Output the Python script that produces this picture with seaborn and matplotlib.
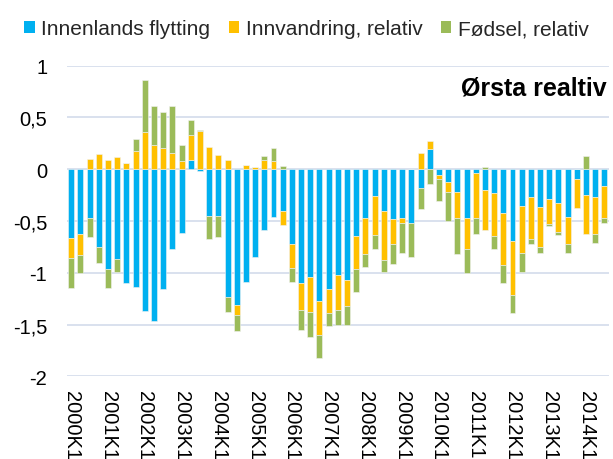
import numpy as np
import pandas as pd
import matplotlib
matplotlib.use("Agg")
import matplotlib.pyplot as plt
from matplotlib.patches import Patch
import seaborn as sns

# ---- data ----
quarters = [f"{y}K{q}" for y in range(2000, 2015) for q in range(1, 5)][:59]

innenlands = [-0.667, -0.622, -0.473, -0.754, -0.966, -0.866, -1.095, -1.134, -1.369, -1.465,
              -1.153, -0.773, -0.612, 0.090, -0.016, -0.451, -0.451, -1.230, -1.311, -1.085,
              -0.844, -0.586, -0.464, -0.406, -0.725, -1.101, -1.043, -1.275, -1.153, -1.024,
              -1.072, -0.644, -0.467, -0.261, -0.399, -0.483, -0.467, -0.522, -0.184, 0.200,
              -0.055, -0.119, -0.216, -0.473, -0.032, -0.203, -0.225, -0.425, -0.696, -0.357,
              -0.271, -0.367, -0.290, -0.328, -0.461, -0.097, -0.245, -0.271, -0.164]
innvandring = [-0.187, -0.206, 0.100, 0.145, 0.087, 0.122, 0.064, 0.177, 0.357, 0.232,
               0.203, 0.158, 0.081, 0.238, 0.370, 0.216, 0.142, 0.087, -0.097, 0.039,
               0.026, 0.087, 0.084, -0.132, -0.232, -0.258, -0.332, -0.322, -0.232, -0.335,
               -0.248, -0.322, -0.348, -0.377, -0.480, -0.242, -0.055, 0.000, 0.155, 0.071,
               -0.042, -0.100, -0.251, -0.300, -0.441, -0.383, -0.419, -0.499, -0.519, -0.454,
               -0.399, -0.380, -0.242, -0.274, -0.264, -0.280, -0.377, -0.351, -0.309]
fodsel = [-0.296, -0.177, -0.184, -0.155, -0.184, -0.122, 0.000, 0.119, 0.502, 0.383,
          0.345, 0.454, 0.151, 0.151, 0.010, -0.219, -0.203, -0.148, -0.155, 0.000,
          0.000, 0.045, 0.122, 0.029, -0.129, -0.196, -0.245, -0.222, -0.129, -0.145,
          -0.184, -0.216, -0.129, -0.129, -0.110, -0.187, -0.290, -0.322, -0.196, -0.138,
          -0.209, -0.280, -0.351, -0.232, -0.148, 0.019, -0.122, -0.177, -0.171, -0.184,
          -0.055, -0.064, -0.016, -0.032, -0.081, 0.000, 0.129, -0.093, -0.048]

series_names = ["Innenlands flytting", "Innvandring, relativ", "Fødsel, relativ"]
series_vals = [innenlands, innvandring, fodsel]
colors = ["#00B0F0", "#FFC000", "#9BBB59"]
y_ticks = [1, 0.5, 0, -0.5, -1, -1.5, -2]
y_ticklabels = ["1", "0,5", "0", "-0,5", "-1", "-1,5", "-2"]
title_text = "Ørsta realtiv"

# ---- style ----
sns.set_theme(style="white")
plt.rcParams["font.family"] = ["Liberation Sans", "DejaVu Sans"]

fig = plt.figure(figsize=(6.13, 4.6), dpi=100)
ax = fig.add_axes([0.1088, 0.1798, 0.9935 - 0.1088, 0.855 - 0.1798])

n = len(quarters)
pos_base = np.zeros(n)
neg_base = np.zeros(n)
for name, vals, col in zip(series_names, series_vals, colors):
    v = np.array(vals, dtype=float)
    bottom = np.where(v >= 0, pos_base, neg_base)
    df = pd.DataFrame({"q": quarters, "v": v})
    sns.barplot(data=df, x="q", y="v", order=quarters, color=col, saturation=1,
                width=0.65, errorbar=None, bottom=bottom, ax=ax,
                edgecolor="#F2F2F2", linewidth=0.4, zorder=3)
    pos_base = pos_base + np.where(v >= 0, v, 0)
    neg_base = neg_base + np.where(v < 0, v, 0)

ax.set_xlim(-0.5, n - 0.5)
ax.set_ylim(-2, 1)
ax.set_yticks(y_ticks)
ax.set_yticklabels(y_ticklabels, fontsize=14.5, color="#000000")
xt = list(range(0, n, 4))
ax.set_xticks(xt)
ax.set_xticklabels([quarters[i] for i in xt], rotation=270, fontsize=14.5,
                   color="#000000", ha="center", va="top")
ax.tick_params(axis="both", length=0)
ax.tick_params(axis="y", pad=14)
ax.tick_params(axis="x", pad=10)
ax.set_xlabel("")
ax.set_ylabel("")
ax.grid(False)
for yv in y_ticks:
    ax.axhline(yv, color="#D9E1EE", linewidth=1.4, zorder=1)
for s in ax.spines.values():
    s.set_visible(False)

ax.text(0.9963, 0.931, title_text, transform=ax.transAxes, ha="right", va="center",
        fontsize=18, fontweight="bold", color="#000000")

handles = [Patch(facecolor=c, edgecolor="none") for c in colors]
fig.legend(handles, series_names, loc="center", bbox_to_anchor=(0.5, 1 - 29.5 / 460),
           ncol=3, frameon=False, fontsize=15, handlelength=0.5, handleheight=0.5,
           handletextpad=0.3, columnspacing=0.9, borderaxespad=0)

fig.savefig("out.png", dpi=100)
